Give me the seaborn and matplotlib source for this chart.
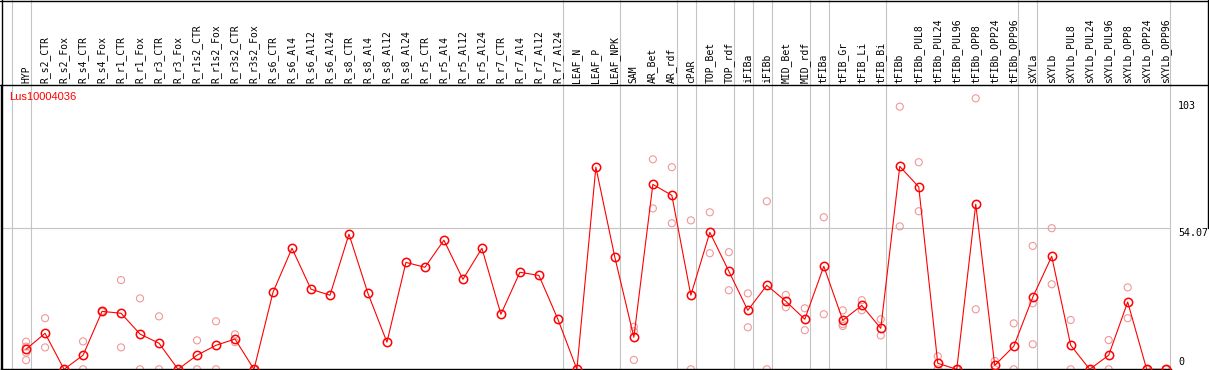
import matplotlib
matplotlib.use("Agg")
import matplotlib.pyplot as plt
import matplotlib.transforms as mtransforms
from matplotlib.lines import Line2D
import pandas as pd
import seaborn as sns

# ---- data ----
GENE = "Lus10004036"

labels = [
    "HYP", "R_s2_CTR", "R_s2_Fox", "R_s4_CTR", "R_s4_Fox", "R_r1_CTR", "R_r1_Fox",
    "R_r3_CTR", "R_r3_Fox", "R_r1s2_CTR", "R_r1s2_Fox", "R_r3s2_CTR", "R_r3s2_Fox",
    "R_s6_CTR", "R_s6_Al4", "R_s6_Al12", "R_s6_Al24", "R_s8_CTR", "R_s8_Al4",
    "R_s8_Al12", "R_s8_Al24", "R_r5_CTR", "R_r5_Al4", "R_r5_Al12", "R_r5_Al24",
    "R_r7_CTR", "R_r7_Al4", "R_r7_Al12", "R_r7_Al24", "LEAF_N", "LEAF_P", "LEAF_NPK",
    "SAM", "AR_Bet", "AR_rdf", "cPAR", "TOP_Bet", "TOP_rdf", "iFIBa", "iFIBb",
    "MID_Bet", "MID_rdf", "tFIBa", "tFIB_Gr", "tFIB_Li", "tFIB_Bi", "tFIBb",
    "tFIBb_PUL8", "tFIBb_PUL24", "tFIBb_PUL96", "tFIBb_OPP8", "tFIBb_OPP24",
    "tFIBb_OPP96", "sXYLa", "sXYLb", "sXYLb_PUL8", "sXYLb_PUL24", "sXYLb_PUL96",
    "sXYLb_OPP8", "sXYLb_OPP24", "sXYLb_OPP96",
]

means = [
    7.7, 13.8, 0, 5.4, 22.2, 21.5, 13.5, 10.0, 0, 5.4, 9.2, 11.6, 0,
    29.5, 46.4, 30.7, 28.4, 51.8, 29.1, 10.4, 41.0, 39.1, 49.5, 34.5, 46.4,
    21.1, 37.2, 36.0, 19.2, 0, 77.5, 42.9,
    12.3, 70.9, 66.7, 28.4, 52.5, 37.6, 22.6, 32.2, 26.1, 19.2,
    39.5, 18.8, 24.5, 15.7, 77.8, 69.9, 2.3, 0, 63.3, 1.5, 8.8,
    27.6, 43.3, 9.2, 0, 5.4, 25.8, 0, 0,
]

replicates = [
    [10.6, 8.7, 6.4, 3.5], [19.6, 8.4], [0, 0], [10.7, 0], [22.4, 22.0],
    [34.2, 8.4], [27.2, 0], [20.3, 0], [0, 0], [11.1, 0], [18.4, 0],
    [13.4, 10.4], [0, 0],
    [], [], [], [], [], [], [], [], [], [], [], [], [], [], [], [],
    [], [], [],
    [16.3, 14.6, 3.6], [80.5, 61.7], [77.5, 56.0], [57.1, 0], [60.2, 44.5],
    [44.9, 30.3], [29.1, 16.1], [64.4, 0], [28.5, 23.8], [23.4, 15.0],
    [58.3, 21.1], [22.6, 17.3, 16.6], [26.5, 22.6], [19.2, 13.0],
    [100.7, 54.8], [79.4, 60.6], [5.0, 0], [0, 0], [103.9, 23.0], [3.2, 0],
    [17.6, 0], [47.3, 25.3, 9.6], [54.1, 32.6], [18.9, 0], [0, 0], [11.2, 0],
    [31.4, 19.6], [0, 0], [0, 0],
]

# group separators sit just right of these columns
group_ends = [-1, 0, 28, 31, 34, 35, 37, 38, 39, 41, 42, 45, 52, 53, 60]

y_ticks = [0, 54.07, 103]
y_top = 109

# ---- layout (pixel based) ----
W, H = 1209, 370
HEADER = 85
AX_L, AX_R, AX_B = 1, 1171, 0.7
ax_h = H - HEADER - AX_B

sns.set_theme(style="white")
plt.rcParams["font.family"] = ["DejaVu Sans Mono", "DejaVu Sans"]

fig = plt.figure(figsize=(W / 100, H / 100), dpi=100)
ax = fig.add_axes([AX_L / W, AX_B / H, (AX_R - AX_L) / W, ax_h / H])

pos = list(range(len(labels)))
rep_df = pd.DataFrame(
    [(i, v) for i, reps in enumerate(replicates) for v in reps],
    columns=["pos", "value"],
)

grid_c = "#c4c4c4"
vext = (ax_h + HEADER) / ax_h
for g in group_ends:
    ax.axvline(g + 0.25, ymin=0, ymax=vext, color=grid_c, lw=0.8,
               clip_on=False, zorder=0)
ax.axhline(y_ticks[1], color=grid_c, lw=0.8, zorder=0)

sns.scatterplot(data=rep_df, x="pos", y="value", ax=ax, marker="o",
                facecolors="none", edgecolor="#f09898", s=26, linewidth=0.8,
                zorder=2, legend=False)
sns.lineplot(x=pos, y=means, ax=ax, color="red", lw=0.8, marker="o",
             markersize=6, markerfacecolor="none", markeredgecolor="red",
             markeredgewidth=1.1, zorder=3, sort=False)

ax.set_xlim(-1.32, 60.28)
ax.set_ylim(0, y_top)
ax.set_xticks([])
ax.set_yticks([])
ax.set_xlabel("")
ax.set_ylabel("")
for side in ["top", "right"]:
    ax.spines[side].set_visible(False)
for side in ["left", "bottom"]:
    ax.spines[side].set_color("black")
    ax.spines[side].set_linewidth(1.0)

# column labels in the header band
trans = mtransforms.blended_transform_factory(ax.transData, ax.transAxes)
for i, lab in enumerate(labels):
    ax.text(i, 1 + 2 / ax_h, lab, rotation=90, ha="center", va="bottom",
            fontsize=7, color="black", transform=trans, clip_on=False)

# value scale on the right
rx = 1178 / W
for v in y_ticks:
    yf = (AX_B + v / y_top * ax_h) / H
    va = "bottom" if v == 0 else "top"
    off = 2 / H if v == 0 else 0
    fig.text(rx, yf + off, f"{v:g}", ha="left", va=va, fontsize=7.2,
             color="black")

fig.text(9 / W, 1 - 97 / H, GENE, ha="left", va="center", color="red",
         fontsize=8, family="Liberation Sans")

# frame lines
hy = 1 - HEADER / H
fig.add_artist(Line2D([0, 1], [1 - 0.5 / H, 1 - 0.5 / H], color="black", lw=1.0,
                      transform=fig.transFigure))
fig.add_artist(Line2D([0, 1], [hy, hy], color="black", lw=1.0,
                      transform=fig.transFigure))
fig.add_artist(Line2D([1.5 / W, 1.5 / W], [0, 1], color="black", lw=1.0,
                      transform=fig.transFigure))
fig.add_artist(Line2D([1 - 1.5 / W, 1 - 1.5 / W], [1 - 228 / H, 1], color="black",
                      lw=1.0, transform=fig.transFigure))

fig.savefig("out.png", dpi=100)
